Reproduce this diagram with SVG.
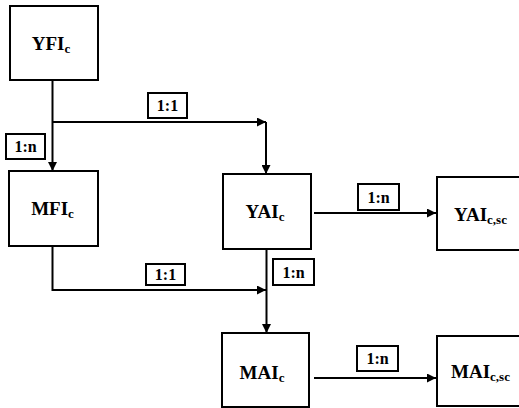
<svg xmlns="http://www.w3.org/2000/svg" width="519" height="408" viewBox="0 0 519 408">
<style>
.box{fill:#fff;stroke:#000;stroke-width:2}
.nt{font-family:"Liberation Serif","Times New Roman",serif;font-weight:bold;font-size:19px;fill:#000}
.sub{font-size:13px}
.lb{fill:#fff;stroke:#000;stroke-width:2}
.lt{font-family:"Liberation Serif","Times New Roman",serif;font-weight:bold;font-size:16px;fill:#000;text-anchor:middle}
.ln{fill:none;stroke:#000;stroke-width:2}
</style>
<defs>
<marker id="ah" markerUnits="userSpaceOnUse" markerWidth="10" markerHeight="9" refX="9" refY="4.5" orient="auto">
<path d="M0,0 L9,4.5 L0,9 z" fill="#000"/>
</marker>
</defs>
<rect width="519" height="408" fill="#fff"/>
<g id="connectors">
<path class="ln" d="M52.5,80 V171" marker-end="url(#ah)"/>
<path class="ln" d="M52.5,122 H266" marker-end="url(#ah)"/>
<path class="ln" d="M266,122 V174" marker-end="url(#ah)"/>
<path class="ln" d="M52.5,246 V290 H266" marker-end="url(#ah)"/>
<path class="ln" d="M266.5,249 V333" marker-end="url(#ah)"/>
<path class="ln" d="M314,213 H436" marker-end="url(#ah)"/>
<path class="ln" d="M314,378 H436" marker-end="url(#ah)"/>
<g id="labels">
<rect class="lb" x="148" y="93" width="39" height="25"/>
<text class="lt" x="167.5" y="111">1:1</text>
<rect class="lb" x="6" y="134" width="39" height="25"/>
<text class="lt" x="25.5" y="152">1:n</text>
<rect class="lb" x="146" y="264" width="39" height="21"/>
<text class="lt" x="165.5" y="280">1:1</text>
<rect class="lb" x="358" y="184" width="41" height="26"/>
<text class="lt" x="378.5" y="203">1:n</text>
<rect class="lb" x="273" y="259" width="41" height="26"/>
<text class="lt" x="293.5" y="278">1:n</text>
<rect class="lb" x="357" y="346" width="41" height="25"/>
<text class="lt" x="377.5" y="364">1:n</text>
</g>
</g>
<g id="YFI">
<rect class="box" x="10" y="6" width="88" height="74"/>
<text class="nt" x="51" y="50" text-anchor="middle">YFI<tspan class="sub" dy="3">c</tspan></text>
</g>
<g id="MFI">
<rect class="box" x="9" y="171" width="89" height="75"/>
<text class="nt" x="52.5" y="215" text-anchor="middle">MFI<tspan class="sub" dy="3">c</tspan></text>
</g>
<g id="YAI">
<rect class="box" x="223" y="174" width="88" height="75"/>
<text class="nt" x="265" y="218" text-anchor="middle">YAI<tspan class="sub" dy="3">c</tspan></text>
</g>
<g id="MAI">
<rect class="box" x="222" y="333" width="87" height="74"/>
<text class="nt" x="262" y="379" text-anchor="middle">MAI<tspan class="sub" dy="3">c</tspan></text>
</g>
<g id="YAIsc">
<rect class="box" x="437" y="177" width="95" height="73"/>
<text class="nt" x="454" y="221">YAI<tspan class="sub" dy="3">c,sc</tspan></text>
</g>
<g id="MAIsc">
<rect class="box" x="437" y="336" width="95" height="70"/>
<text class="nt" x="451" y="378">MAI<tspan class="sub" dy="3">c,sc</tspan></text>
</g>
</svg>
